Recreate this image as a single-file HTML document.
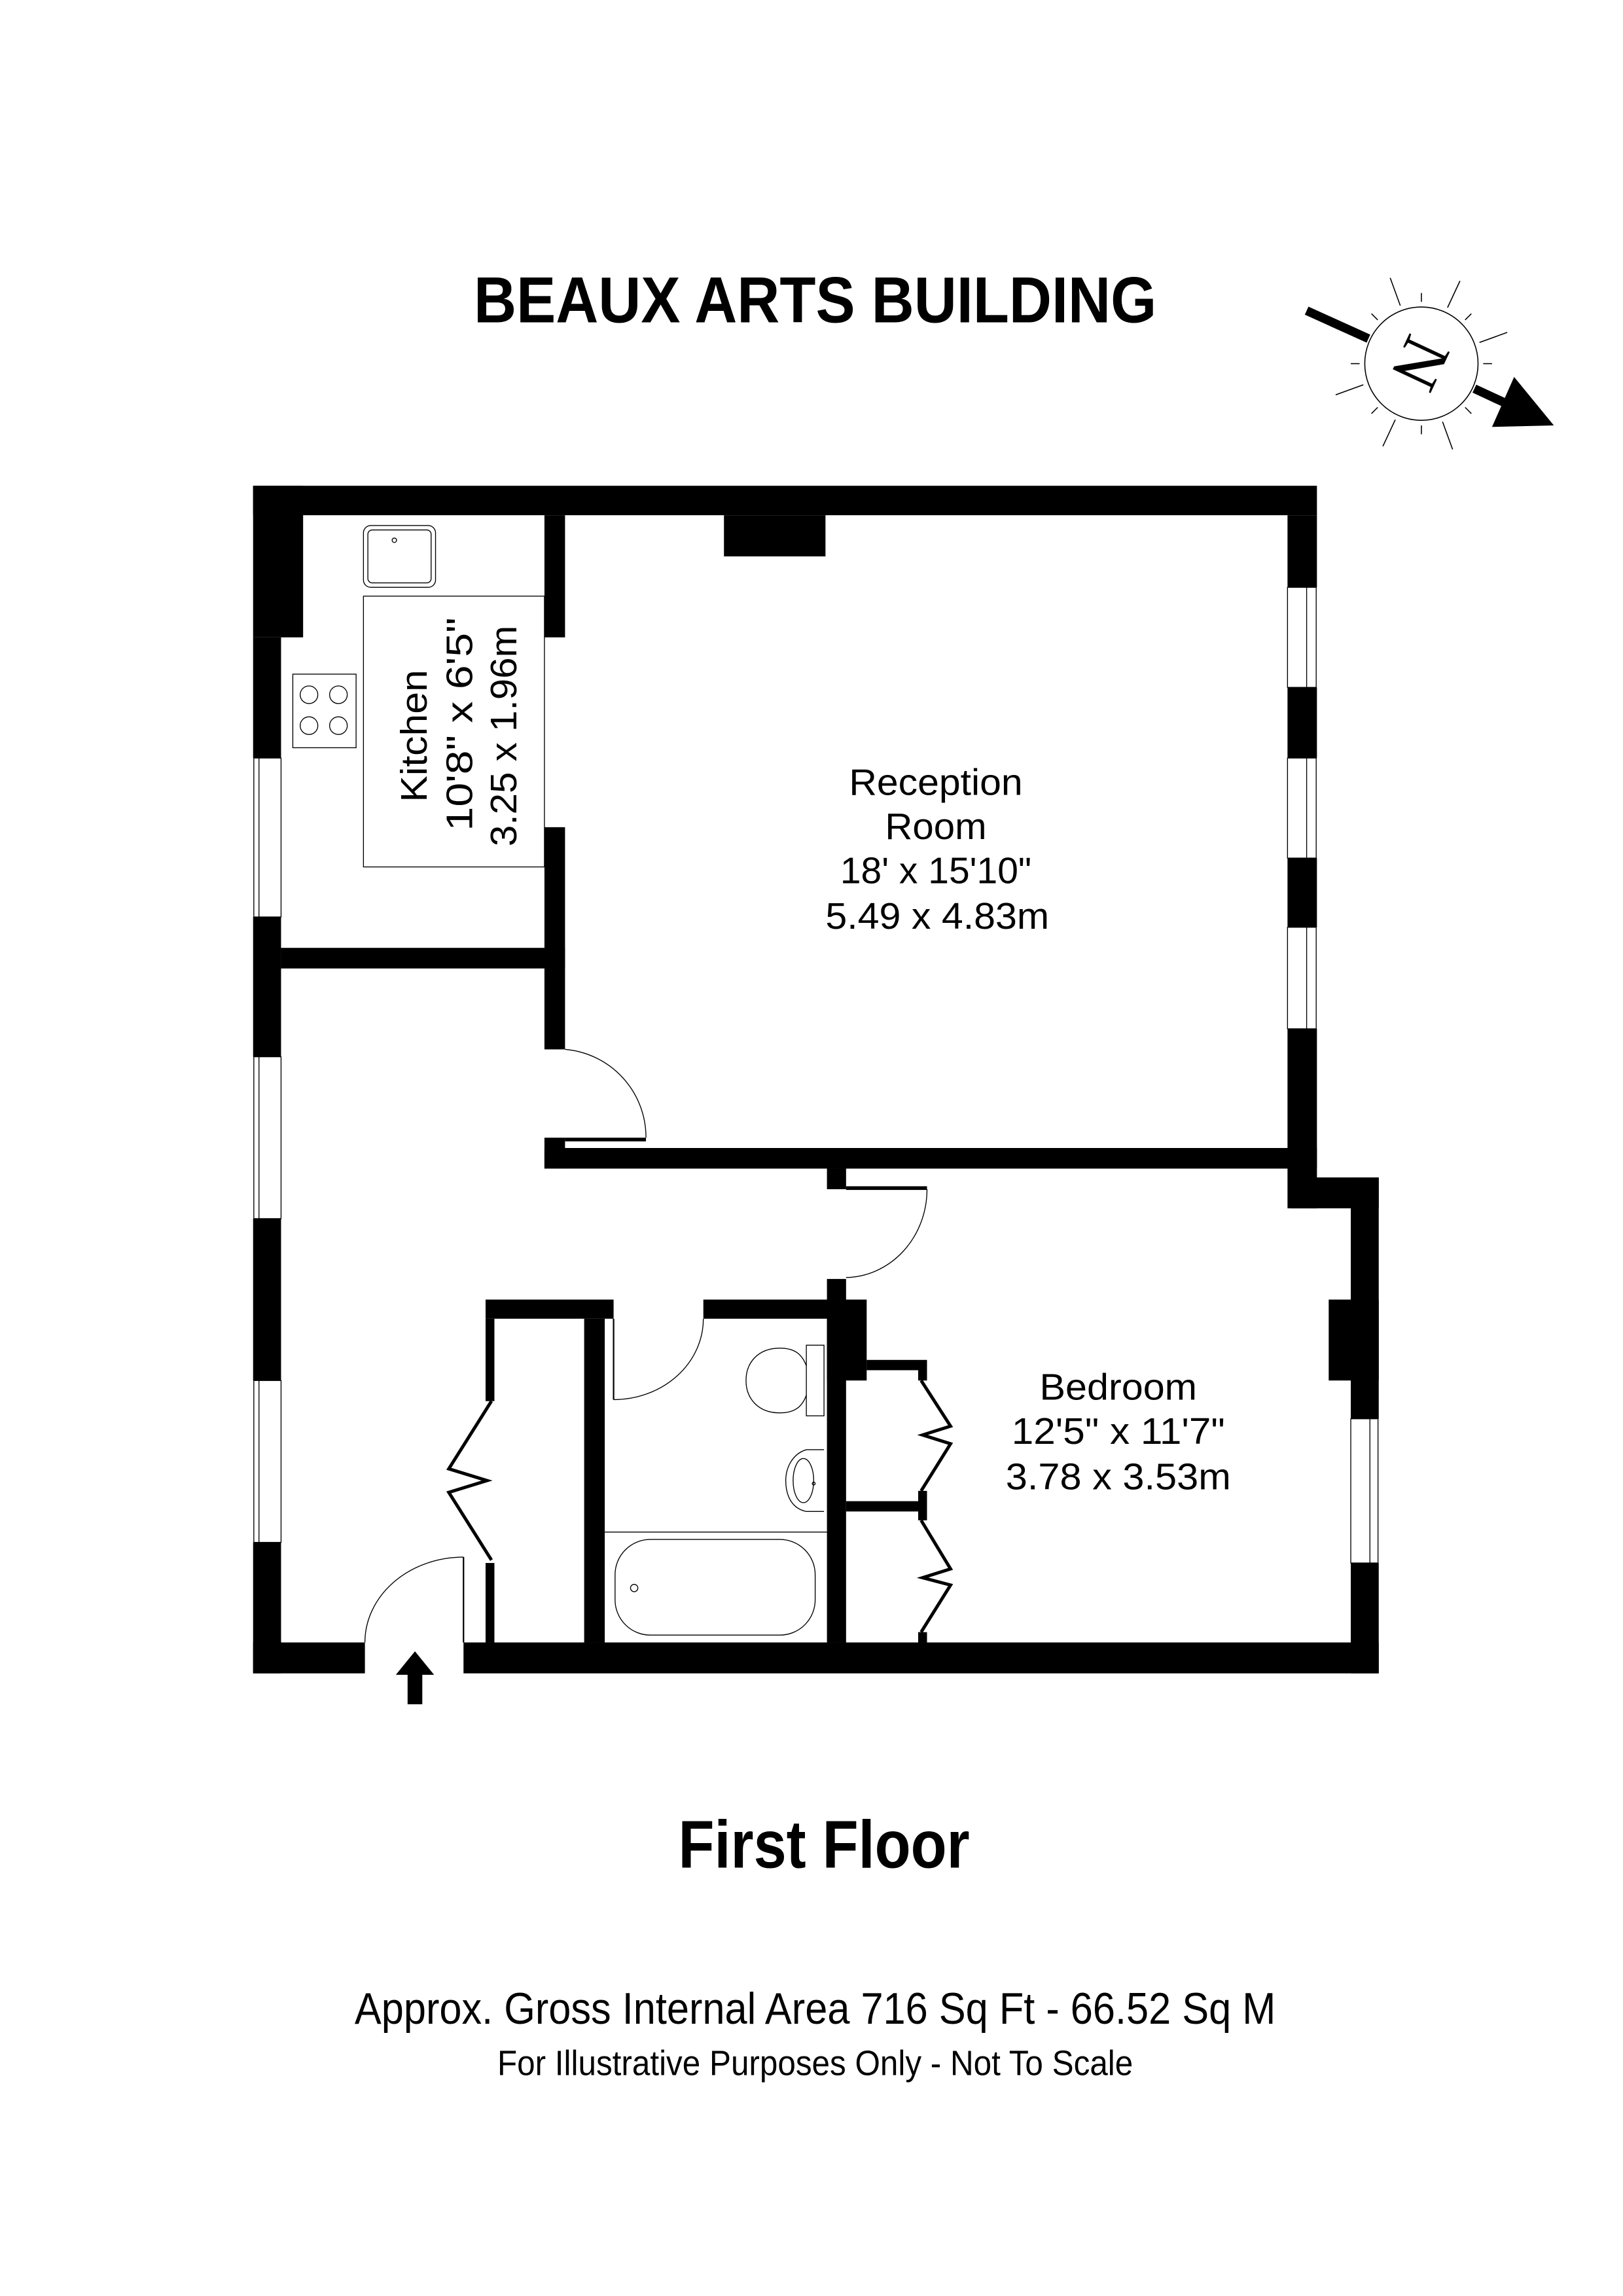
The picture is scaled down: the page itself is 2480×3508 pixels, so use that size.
<!DOCTYPE html>
<html><head><meta charset="utf-8"><style>
html,body{margin:0;padding:0;background:#fff;}
svg{display:block;}
text{font-family:"Liberation Sans",Arial,sans-serif;fill:#000;}
</style></head><body>
<svg width="2480" height="3508" viewBox="0 0 1103 1560" xmlns="http://www.w3.org/2000/svg">
<rect width="1103" height="1560" fill="#fff"/>
<text x="322" y="219" font-size="44" font-weight="bold" textLength="464" lengthAdjust="spacingAndGlyphs">BEAUX ARTS BUILDING</text>

<!-- compass -->
<g stroke="#000" fill="none">
<circle cx="966" cy="247" r="38.5" stroke-width="0.7" fill="#fff"/>
<g stroke-width="0.7" transform="translate(966,247)">
<line x1="42" y1="0" x2="62" y2="0" transform="rotate(-110)"/>
<line x1="42" y1="0" x2="62" y2="0" transform="rotate(-65)"/>
<line x1="42" y1="0" x2="62" y2="0" transform="rotate(-20)"/>
<line x1="42" y1="0" x2="62" y2="0" transform="rotate(25)"/>
<line x1="42" y1="0" x2="62" y2="0" transform="rotate(70)"/>
<line x1="42" y1="0" x2="62" y2="0" transform="rotate(115)"/>
<line x1="42" y1="0" x2="62" y2="0" transform="rotate(160)"/>
<line x1="42" y1="0" x2="62" y2="0" transform="rotate(205)"/>
<line x1="42" y1="0" x2="48" y2="0" transform="rotate(-90)"/>
<line x1="42" y1="0" x2="48" y2="0" transform="rotate(-45)"/>
<line x1="42" y1="0" x2="48" y2="0" transform="rotate(0)"/>
<line x1="42" y1="0" x2="48" y2="0" transform="rotate(45)"/>
<line x1="42" y1="0" x2="48" y2="0" transform="rotate(90)"/>
<line x1="42" y1="0" x2="48" y2="0" transform="rotate(135)"/>
<line x1="42" y1="0" x2="48" y2="0" transform="rotate(180)"/>
<line x1="42" y1="0" x2="48" y2="0" transform="rotate(225)"/>
</g>
<line x1="888" y1="211" x2="930" y2="230" stroke-width="6"/>
<line x1="1002" y1="264" x2="1030" y2="277" stroke-width="6"/>
</g>
<polygon points="1029,256 1056,289 1014,290" fill="#000"/>
<text x="0" y="0" font-family="Liberation Serif,serif" font-size="46" text-anchor="middle" transform="translate(966,247) rotate(115) translate(0,16)" style="font-family:'Liberation Serif',serif">N</text>

<!-- walls -->
<g fill="#000">
<rect x="172" y="330" width="723" height="20"/>
<rect x="172" y="330" width="34" height="103"/>
<rect x="172" y="433" width="19" height="82"/>
<rect x="172" y="623" width="19" height="95"/>
<rect x="172" y="828" width="19" height="110"/>
<rect x="172" y="1048" width="19" height="89"/>
<rect x="370" y="350" width="14" height="83"/>
<rect x="370" y="562" width="14" height="151"/>
<rect x="492" y="350" width="69" height="28"/>
<rect x="875" y="350" width="20" height="49"/>
<rect x="875" y="467" width="20" height="48"/>
<rect x="875" y="583" width="20" height="47"/>
<rect x="875" y="699" width="20" height="122"/>
<rect x="191" y="644" width="193" height="14"/>
<rect x="370" y="780" width="525" height="14"/>
<rect x="370" y="773" width="14" height="21"/>
<rect x="384" y="773" width="55" height="2.5"/>
<rect x="877" y="800" width="60" height="21"/>
<rect x="918" y="800" width="19" height="164"/>
<rect x="903" y="883" width="34" height="55"/>
<rect x="918" y="1062" width="19" height="75"/>
<rect x="172" y="1116" width="76" height="21"/>
<rect x="315" y="1116" width="622" height="21"/>
<rect x="562" y="794" width="13" height="14"/>
<rect x="575" y="806" width="55" height="2.5"/>
<rect x="562" y="869" width="13" height="247"/>
<rect x="562" y="883" width="27" height="55"/>
<rect x="330" y="883" width="87" height="13"/>
<rect x="478" y="883" width="97" height="13"/>
<rect x="330" y="896" width="6" height="56"/>
<rect x="330" y="1062" width="6" height="54"/>
<rect x="397" y="896" width="14" height="220"/>
<rect x="589" y="924" width="41" height="7"/>
<rect x="624" y="931" width="6" height="7"/>
<rect x="575" y="1020" width="55" height="7"/>
<rect x="624" y="1013" width="6" height="20"/>
<rect x="624" y="1109" width="6" height="7"/>
</g>

<!-- windows -->
<g stroke="#000" stroke-width="0.6" fill="#fff">
<rect x="172.5" y="515" width="18.5" height="108"/><line x1="176" y1="515" x2="176" y2="623"/>
<rect x="172.5" y="718" width="18.5" height="110"/><line x1="176" y1="718" x2="176" y2="828"/>
<rect x="172.5" y="938" width="18.5" height="110"/><line x1="176" y1="938" x2="176" y2="1048"/>
<rect x="875" y="399" width="19.5" height="68"/><line x1="888" y1="399" x2="888" y2="467"/>
<rect x="875" y="515" width="19.5" height="68"/><line x1="888" y1="515" x2="888" y2="583"/>
<rect x="875" y="630" width="19.5" height="69"/><line x1="888" y1="630" x2="888" y2="699"/>
<rect x="918" y="964" width="18.5" height="98"/><line x1="931" y1="964" x2="931" y2="1062"/>
</g>

<!-- door arcs & fixtures -->
<g stroke="#000" stroke-width="0.6" fill="none">
<path d="M384,713 A60,60 0 0 1 439,773"/>
<path d="M630,808 A56,60 0 0 1 575,868"/>
<path d="M417,951 A61,55 0 0 0 478,896"/>
<line x1="417" y1="896" x2="417" y2="951" stroke-width="1"/>
<path d="M248,1116 A67,58 0 0 1 315,1058"/>
<line x1="315" y1="1058" x2="315" y2="1116" stroke-width="1"/>
<rect x="247" y="357" width="49" height="42" rx="5"/>
<rect x="250" y="360" width="43" height="36" rx="3"/>
<circle cx="268" cy="367" r="1.5"/>
<rect x="247" y="405" width="123" height="184"/>
<rect x="199" y="458" width="43" height="50"/>
<ellipse cx="210" cy="472" rx="6" ry="6"/><ellipse cx="230" cy="472" rx="6" ry="6"/>
<ellipse cx="210" cy="493" rx="6" ry="6"/><ellipse cx="230" cy="493" rx="6" ry="6"/>
<rect x="548" y="914" width="12" height="48"/>
<path d="M548,928 C545,920 540,916 530,916 C515,916 507,926 507,938 C507,950 515,960 530,960 C540,960 545,956 548,948"/>
<path d="M560,985 L548,985 C538,988 534,998 534,1006 C534,1016 538,1025 548,1027 L560,1027"/>
<ellipse cx="546" cy="1006" rx="7" ry="15"/>
<circle cx="553" cy="1008" r="1"/>
<line x1="411" y1="1041" x2="562" y2="1041"/>
<rect x="418" y="1046" width="136" height="65" rx="24"/>
<circle cx="431" cy="1079" r="2.5"/>
</g>
<g stroke="#000" stroke-width="2.2" fill="none">
<polyline points="334,952 305,998 331,1006 305,1014 334,1060"/>
<polyline points="626,938 646,969 627,975 646,981 626,1013"/>
<polyline points="626,1033 646,1066 627,1072 646,1077 626,1109"/>
</g>
<polygon points="282,1122 295,1138 287,1138 287,1158 277,1158 277,1138 269,1138" fill="#000"/>

<!-- labels -->
<g font-size="25" text-anchor="middle">
<text x="636" y="540" textLength="118" lengthAdjust="spacingAndGlyphs">Reception</text>
<text x="636" y="570" textLength="69" lengthAdjust="spacingAndGlyphs">Room</text>
<text x="636" y="600" textLength="130" lengthAdjust="spacingAndGlyphs">18' x 15'10"</text>
<text x="637" y="631" textLength="152" lengthAdjust="spacingAndGlyphs">5.49 x 4.83m</text>
<text x="760" y="951" textLength="107" lengthAdjust="spacingAndGlyphs">Bedroom</text>
<text x="760" y="981" textLength="145" lengthAdjust="spacingAndGlyphs">12'5" x 11'7"</text>
<text x="760" y="1012" textLength="153" lengthAdjust="spacingAndGlyphs">3.78 x 3.53m</text>
<text transform="translate(290,500) rotate(-90)" textLength="90" lengthAdjust="spacingAndGlyphs">Kitchen</text>
<text transform="translate(321,492) rotate(-90)" textLength="145" lengthAdjust="spacingAndGlyphs">10'8" x 6'5"</text>
<text transform="translate(351,500) rotate(-90)" textLength="150" lengthAdjust="spacingAndGlyphs">3.25 x 1.96m</text>
</g>
<text x="461" y="1269" font-size="46" font-weight="bold" textLength="198" lengthAdjust="spacingAndGlyphs">First Floor</text>
<text x="241" y="1375" font-size="30" textLength="626" lengthAdjust="spacingAndGlyphs">Approx. Gross Internal Area 716 Sq Ft - 66.52 Sq M</text>
<text x="338" y="1410" font-size="24" textLength="432" lengthAdjust="spacingAndGlyphs">For Illustrative Purposes Only - Not To Scale</text>
</svg>
</body></html>
